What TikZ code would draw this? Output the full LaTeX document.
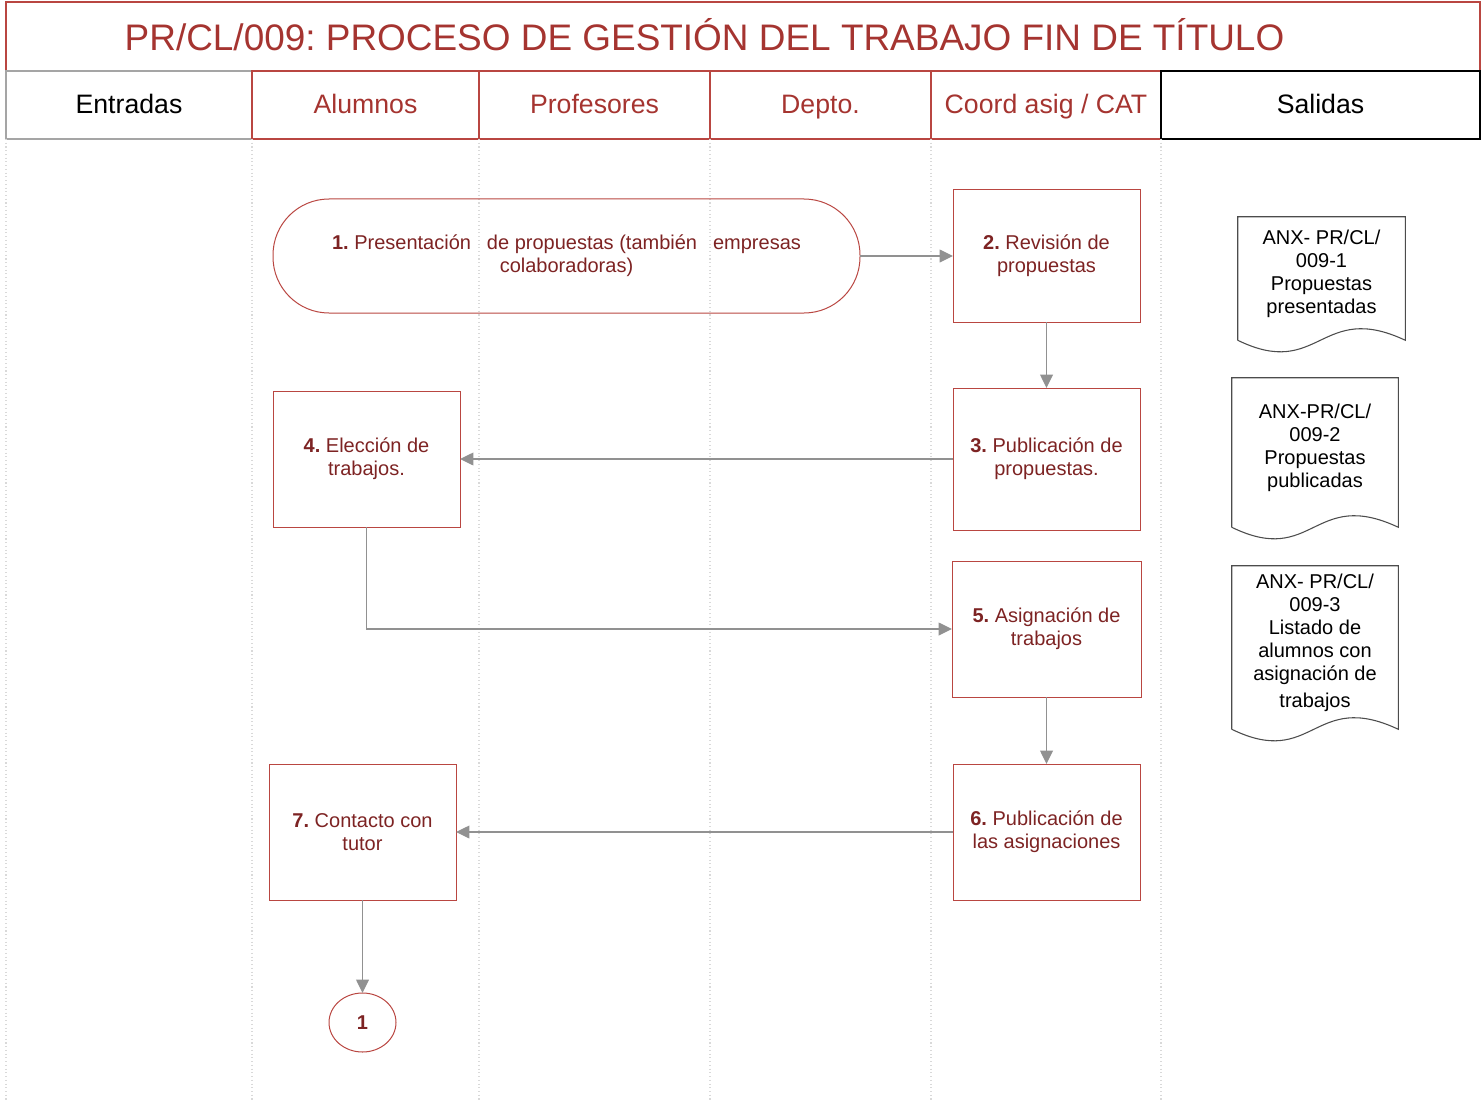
\documentclass[tikz,border=0pt]{standalone}
\usepackage{fontspec}
\setmainfont{Liberation Sans}
\usetikzlibrary{positioning,arrows.meta,shapes.geometric}
\frenchspacing

\definecolor{titlered}{RGB}{165,52,48}
\definecolor{linered}{RGB}{185,70,65}
\definecolor{textred}{RGB}{125,35,35}
\definecolor{flowgray}{RGB}{145,145,145}
\definecolor{headgray}{RGB}{165,165,165}

\begin{document}
\begin{tikzpicture}[x=0.75pt, y=-0.75pt,
    head/.style={draw=linered, line width=0.9pt, minimum height=51pt, inner sep=0pt, outer sep=0pt,
                 text height=16pt, text depth=2.5pt, font=\fontsize{20}{24}\selectfont, text=titlered},
    proc/.style={draw=linered, line width=0.75pt, outer sep=0pt, minimum width=140.25pt, minimum height=102pt,
                 align=center, text=textred, font=\fontsize{15}{17.25}\selectfont},
    doc/.style={minimum width=124.5pt, align=center, inner sep=0pt, font=\fontsize{15}{17.25}\selectfont},
    docline/.style={draw=black!70, line width=0.8pt},
    flow/.style={draw=flowgray, line width=1.1pt, -{Triangle[length=10pt,width=9.5pt]}},
    lane/.style={draw=black!15, line width=0.8pt, dotted}]
    \useasboundingbox (0,0) rectangle (1481,1102);
    \coordinate (bottom) at (0,1102);

    % title and lane headers
    \node [draw=linered, line width=0.9pt, minimum width=1105.5pt, minimum height=51.75pt,
           inner sep=0pt, outer sep=0pt] (title) at (743,36.5) {};
    \node [text=titlered, font=\fontsize{27.7}{32}\selectfont] (titletext) at (704.5,35)
        {PR/CL/009: PROCESO DE GESTIÓN DEL TRABAJO FIN DE TÍTULO};
    \node [head, draw=headgray, text=black, minimum width=184.5pt, anchor=north west] (h1) at (title.south west) {Entradas};
    \node [head, minimum width=170.25pt, right=0pt of h1] (h2) {Alumnos};
    \node [head, minimum width=173.25pt, right=0pt of h2] (h3) {Profesores};
    \node [head, minimum width=165.75pt, right=0pt of h3] (h4) {Depto.};
    \node [head, minimum width=172.5pt, right=0pt of h4] (h5) {Coord asig / CAT};
    \node [head, draw=black, text=black, minimum width=239.25pt, right=0pt of h5] (h6) {Salidas};
    \draw [lane] (h1.south west) -- (h1.south west |- bottom)
                 (h2.south west) -- (h2.south west |- bottom)
                 (h3.south west) -- (h3.south west |- bottom)
                 (h4.south west) -- (h4.south west |- bottom)
                 (h5.south west) -- (h5.south west |- bottom)
                 (h6.south west) -- (h6.south west |- bottom);

    % process steps
    \node [proc, rounded corners=42pt, minimum width=440.25pt, minimum height=85.5pt] (n1) at (566.5,256)
        {\textbf{1.} Presentación\hspace{12pt}de propuestas (también\hspace{12pt}empresas\\colaboradoras)};
    \node [proc, minimum height=99pt, right=69.75pt of n1] (n2) {\textbf{2.} Revisión de\\propuestas};
    \node [proc, minimum height=106.5pt, below=49.5pt of n2] (n3) {\textbf{3.} Publicación de\\propuestas.};
    \node [proc, left=369.75pt of n3] (n4) {\textbf{4.} Elección de\\trabajos.};
    \node [proc, minimum width=141.75pt, below=23.25pt of n3] (n5) {\textbf{5.} Asignación de\\trabajos};
    \node [proc, below=50.25pt of n5] (n6) {\textbf{6.} Publicación de\\las asignaciones};
    \node [proc, left=372.75pt of n6] (n7) {\textbf{7.} Contacto con\\tutor};
    \node [ellipse, draw=linered, line width=0.75pt, outer sep=0pt, minimum width=50.25pt, minimum height=44.25pt,
           text=textred, font=\fontsize{15}{17.25}\selectfont\bfseries, below=69.75pt of n7] (c1) {1};

    % output documents
    \node [doc, minimum width=125.25pt, minimum height=84.75pt] (d1) at (1321.5,273.5)
        {ANX- PR/CL/\\009-1\\Propuestas\\presentadas};
    \node [doc, minimum height=104.25pt] (d2) at (1315,447.5)
        {ANX-PR/CL/\\009-2\\Propuestas\\publicadas};
    \node [doc, minimum height=114.75pt] (d3) at (1315,642.5)
        {ANX- PR/CL/\\009-3\\Listado de\\alumnos con\\asignación de\\[3pt]trabajos};
    \draw [docline] ([yshift=-7.5pt]d1.south west) -- (d1.north west) -- (d1.north east)
        -- ([yshift=-7.5pt]d1.south east) .. controls +(-85,-40) and +(82,40) .. ([yshift=-7.5pt]d1.south west);
    \draw [docline] ([yshift=-7.5pt]d2.south west) -- (d2.north west) -- (d2.north east)
        -- ([yshift=-7.5pt]d2.south east) .. controls +(-85,-40) and +(82,40) .. ([yshift=-7.5pt]d2.south west);
    \draw [docline] ([yshift=-7.5pt]d3.south west) -- (d3.north west) -- (d3.north east)
        -- ([yshift=-7.5pt]d3.south east) .. controls +(-85,-40) and +(82,40) .. ([yshift=-7.5pt]d3.south west);

    % flow
    \draw [flow] (n1) -- (n2);
    \draw [flow] (n2) -- (n3);
    \draw [flow] (n3) -- (n4);
    \draw [flow] (n4.south) |- (n5.west);
    \draw [flow] (n5) -- (n6);
    \draw [flow] (n6) -- (n7);
    \draw [flow] (n7) -- (c1);
\end{tikzpicture}
\end{document}
